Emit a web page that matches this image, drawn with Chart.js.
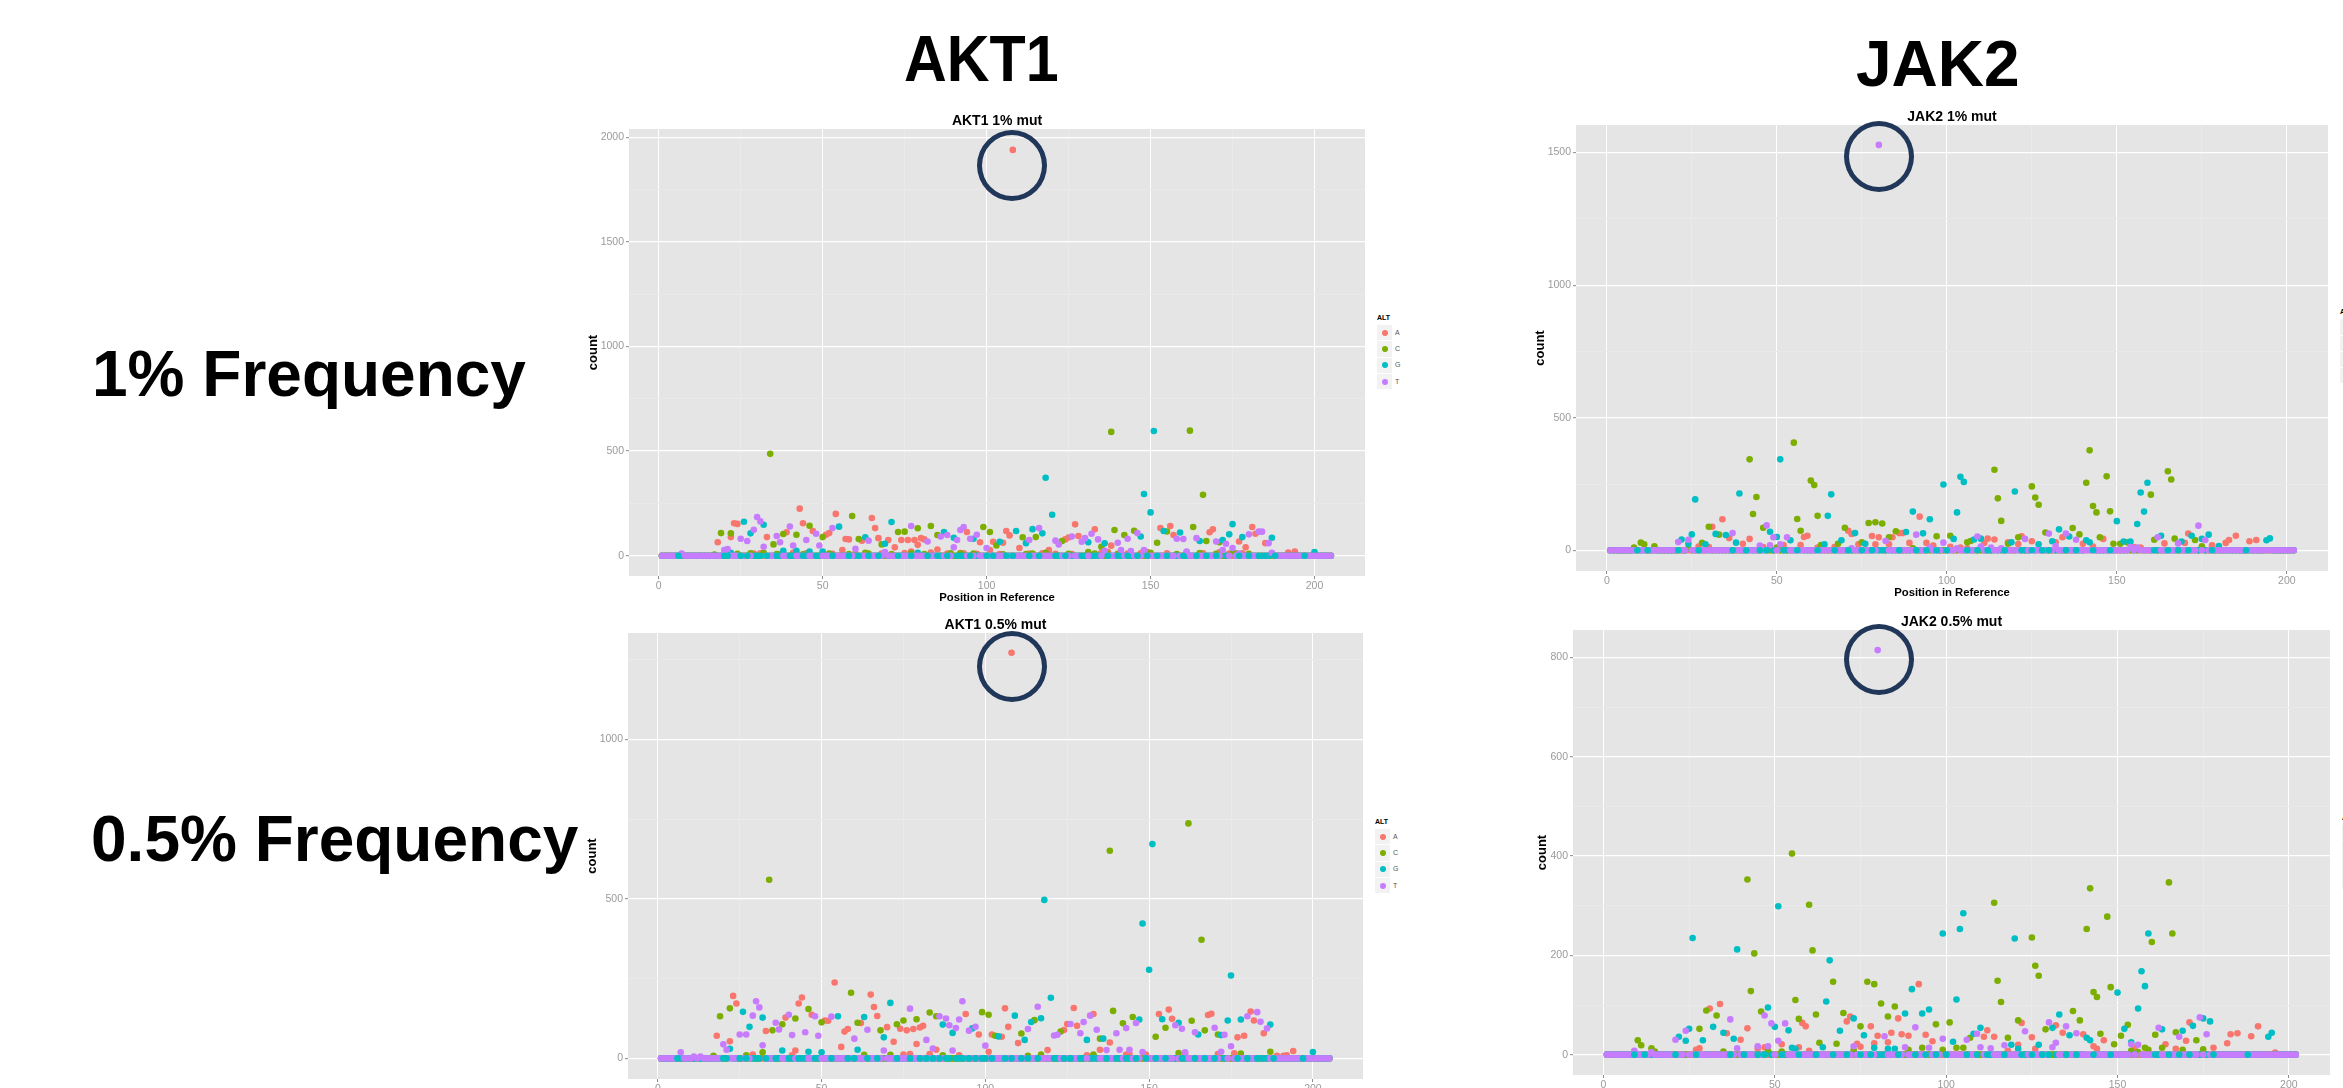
<!DOCTYPE html>
<html><head><meta charset="utf-8">
<script src="https://cdn.jsdelivr.net/npm/chart.js@4"></script>
<style>
html,body{margin:0;padding:0;background:#fff;width:2343px;height:1088px;overflow:hidden;font-family:"Liberation Sans",Arial,sans-serif}
#stage{position:absolute;left:0;top:0;width:2343px;height:1088px;overflow:hidden}
canvas{position:absolute;filter:blur(.35px)}
.big{position:absolute;font-weight:bold;font-size:64px;line-height:64px;color:#000;white-space:nowrap;transform-origin:left top}
.ring{position:absolute;width:60px;height:61px;border:5px solid #21375A;border-radius:50%;pointer-events:none}
.lt{position:absolute;font:bold 7px "Liberation Sans",Arial,sans-serif;color:#000;line-height:8px}
.lk{position:absolute;width:15.3px;height:15.3px;background:#F2F2F2}
.ld{position:absolute;width:6px;height:6px;border-radius:50%;left:4.7px;top:4.7px}
.ll{position:absolute;font:7px "Liberation Sans",Arial,sans-serif;color:#555;line-height:8px}
</style></head><body><div id="stage"></div>
<script>
const altLabels=['A','C','G','T'];
const altColors=['#F8766D','#7CAE00','#00BFC4','#C77CFF'];
const rowLabels=['1% Frequency','0.5% Frequency'];
const geneLabels=['AKT1','JAK2'];
const positionsAKT1=[1,2,3,4,5,6,7,8,9,10,11,12,13,14,15,16,17,18,19,20,21,22,23,24,25,26,27,28,29,30,31,32,33,34,35,36,37,38,39,40,41,42,43,44,45,46,47,48,49,50,51,52,53,54,55,56,57,58,59,60,61,62,63,64,65,66,67,68,69,70,71,72,73,74,75,76,77,78,79,80,81,82,83,84,85,86,87,88,89,90,91,92,93,94,95,96,97,98,99,100,101,102,103,104,105,106,107,108,109,110,111,112,113,114,115,116,117,118,119,120,121,122,123,124,125,126,127,128,129,130,131,132,133,134,135,136,137,138,139,140,141,142,143,144,145,146,147,148,149,150,151,152,153,154,155,156,157,158,159,160,161,162,163,164,165,166,167,168,169,170,171,172,173,174,175,176,177,178,179,180,181,182,183,184,185,186,187,188,189,190,191,192,193,194,195,196,197,198,199,200,201,202,203,204,205];
const positionsJAK2=[1,2,3,4,5,6,7,8,9,10,11,12,13,14,15,16,17,18,19,20,21,22,23,24,25,26,27,28,29,30,31,32,33,34,35,36,37,38,39,40,41,42,43,44,45,46,47,48,49,50,51,52,53,54,55,56,57,58,59,60,61,62,63,64,65,66,67,68,69,70,71,72,73,74,75,76,77,78,79,80,81,82,83,84,85,86,87,88,89,90,91,92,93,94,95,96,97,98,99,100,101,102,103,104,105,106,107,108,109,110,111,112,113,114,115,116,117,118,119,120,121,122,123,124,125,126,127,128,129,130,131,132,133,134,135,136,137,138,139,140,141,142,143,144,145,146,147,148,149,150,151,152,153,154,155,156,157,158,159,160,161,162,163,164,165,166,167,168,169,170,171,172,173,174,175,176,177,178,179,180,181,182,183,184,185,186,187,188,189,190,191,192,193,194,195,196,197,198,199,200,201,202];
const xTicks=[0,25,50,75,100,125,150,175,200];
const yTicksAKT1_1=[0,250,500,750,1000,1250,1500,1750,2000];
const yTicksJAK2_1=[0,250,500,750,1000,1250,1500];
const yTicksAKT1_05=[0,250,500,750,1000,1250];
const yTicksJAK2_05=[0,100,200,300,400,500,600,700,800];

// [position, count] readings; every other position reads 0
const akt1_1_A=[[108,1940],[18,64],[22,89],[23,155],[24,152],[29,10],[31,12],[33,89],[37,8],[39,112],[41,14],[43,225],[44,155],[45,12],[47,118],[51,100],[52,108],[53,9],[54,200],[56,27],[57,80],[58,78],[60,12],[62,72],[65,180],[66,132],[67,84],[68,10],[70,75],[72,40],[74,75],[75,13],[76,75],[77,20],[78,75],[79,52],[80,84],[81,78],[83,15],[85,30],[88,10],[92,13],[93,12],[94,113],[97,9],[98,64],[101,27],[102,67],[104,8],[105,62],[106,118],[107,97],[110,37],[113,10],[117,12],[119,27],[121,9],[124,78],[125,87],[126,8],[127,150],[128,94],[131,12],[133,126],[135,14],[137,18],[138,48],[141,13],[143,10],[147,12],[149,18],[153,132],[155,12],[156,142],[157,99],[161,15],[166,12],[168,112],[169,126],[171,16],[174,10],[177,68],[178,12],[179,40],[181,137],[182,105],[185,60],[187,8],[192,15],[194,20]];
const akt1_1_C=[[17,6],[19,108],[22,107],[24,9],[28,12],[32,14],[34,487],[35,54],[36,8],[38,104],[42,100],[44,7],[46,143],[50,89],[52,10],[58,8],[59,190],[61,80],[63,14],[64,10],[68,54],[71,8],[73,113],[75,115],[77,11],[79,131],[81,8],[83,142],[85,99],[89,12],[92,10],[96,10],[99,137],[101,113],[103,49],[105,7],[111,88],[112,8],[114,10],[115,89],[118,14],[123,70],[125,9],[131,17],[133,10],[135,43],[137,8],[138,592],[139,123],[140,9],[142,99],[145,119],[150,14],[152,62],[155,116],[158,8],[162,598],[163,137],[165,13],[166,291],[167,70],[170,9],[171,64],[175,12],[176,12],[180,9]];
const akt1_1_G=[[22,14],[26,162],[28,107],[32,148],[38,24],[42,24],[46,20],[50,20],[55,139],[63,88],[69,57],[71,161],[79,14],[87,113],[90,86],[96,81],[104,67],[109,118],[112,60],[114,127],[117,107],[118,373],[120,196],[131,64],[136,59],[147,92],[148,295],[150,207],[151,596],[154,118],[159,111],[165,70],[172,75],[174,102],[175,151],[178,89],[187,86],[200,18]];
const akt1_1_T=[[7,10],[20,27],[21,32],[25,81],[27,70],[29,124],[30,185],[31,164],[32,43],[36,94],[37,64],[40,140],[41,49],[45,75],[48,105],[49,49],[53,132],[60,33],[64,72],[69,17],[77,142],[82,68],[86,92],[88,99],[90,40],[91,75],[92,123],[93,137],[95,81],[97,100],[100,37],[113,75],[116,132],[121,72],[122,54],[126,92],[129,67],[130,84],[132,105],[134,78],[136,24],[140,62],[141,27],[143,81],[144,22],[146,108],[148,27],[158,81],[160,80],[161,20],[164,84],[170,68],[172,27],[173,57],[175,37],[177,10],[180,102],[183,115],[184,115],[186,60],[187,14]];
const akt1_1_Gfront=[6,20,21,25,27,30,33,36,40,44,48,53,58,61,64,67,73,77,82,85,88,91,92,95,100,102,106,108,113,116,121,124,129,133,137,140,143,146,149,152,155,160,164,167,170,172,177,180,183,185,188,197];

const jak2_1_A=[[27,14],[30,12],[31,89],[34,117],[36,46],[40,25],[42,43],[46,12],[52,20],[57,20],[58,50],[59,55],[62,10],[67,12],[71,74],[72,62],[74,23],[78,54],[79,23],[80,49],[83,23],[84,49],[86,65],[87,65],[89,28],[92,127],[94,28],[96,18],[101,13],[104,10],[106,8],[111,28],[112,44],[114,41],[118,30],[121,24],[122,53],[125,34],[132,30],[134,49],[140,25],[143,14],[146,43],[155,12],[157,10],[164,26],[170,28],[171,63],[178,19],[182,28],[183,39],[185,55],[189,34],[191,39]];
const jak2_1_C=[[8,10],[10,29],[11,23],[14,15],[24,8],[28,28],[30,89],[33,59],[42,343],[43,137],[44,201],[46,85],[50,10],[55,406],[56,118],[57,74],[60,263],[61,246],[62,130],[63,20],[68,25],[70,85],[75,30],[77,103],[79,106],[81,101],[83,49],[85,72],[90,8],[97,53],[101,55],[106,30],[107,35],[114,304],[115,196],[116,111],[118,25],[121,49],[125,241],[126,199],[127,172],[129,67],[137,84],[139,60],[141,255],[142,377],[143,167],[144,143],[145,49],[147,279],[148,147],[149,25],[151,25],[153,30],[160,210],[161,40],[165,298],[166,267],[167,44],[173,39],[175,15]];
const jak2_1_G=[[22,41],[24,25],[25,60],[26,192],[29,23],[32,62],[35,58],[38,29],[39,214],[48,70],[50,50],[51,343],[54,38],[64,23],[65,130],[66,211],[69,38],[73,65],[76,25],[88,69],[90,146],[93,64],[95,117],[99,248],[102,43],[103,143],[104,277],[105,258],[108,41],[110,44],[119,30],[120,222],[127,23],[131,34],[133,79],[136,52],[141,38],[142,30],[150,110],[152,33],[154,33],[156,99],[157,218],[158,146],[159,255],[163,55],[169,33],[172,55],[175,43],[177,59],[180,16],[194,38],[195,45]];
const jak2_1_T=[[21,31],[24,40],[37,65],[45,18],[47,94],[48,19],[49,49],[51,23],[53,49],[72,8],[80,1529],[82,35],[91,59],[95,10],[99,29],[103,8],[109,52],[110,14],[113,10],[116,8],[123,43],[130,63],[132,16],[135,63],[138,40],[154,12],[156,10],[162,49],[168,26],[174,93],[176,39]];
const jak2_1_Gfront=[9,12,21,27,37,41,45,47,52,56,62,67,71,75,78,81,86,91,94,97,100,106,109,112,117,122,125,128,130,135,138,143,148,161,165,168,171,175,178,188];

const akt1_05_A=[[108,1272],[18,71],[22,54],[23,196],[24,172],[29,12],[33,86],[39,128],[41,10],[42,25],[43,172],[44,191],[47,137],[51,119],[52,118],[54,238],[56,36],[57,84],[58,92],[62,111],[65,200],[66,161],[67,133],[70,98],[72,52],[74,93],[75,12],[76,88],[77,14],[78,92],[79,45],[80,97],[81,102],[83,14],[85,27],[92,10],[94,139],[98,75],[101,21],[102,75],[105,68],[106,157],[107,99],[110,48],[119,26],[124,89],[125,108],[127,158],[128,102],[131,10],[133,139],[135,27],[138,50],[143,12],[144,14],[149,12],[153,139],[156,153],[157,124],[161,15],[168,136],[169,140],[171,14],[176,16],[177,66],[179,71],[181,147],[182,119],[185,79],[189,8],[191,8],[192,10],[194,23]];
const akt1_05_C=[[17,8],[19,132],[22,157],[27,10],[32,19],[34,560],[35,88],[38,107],[42,125],[46,155],[50,113],[59,206],[61,112],[63,11],[68,88],[71,11],[73,107],[75,119],[79,123],[83,144],[85,132],[87,10],[99,145],[101,137],[103,71],[111,78],[113,8],[115,120],[117,12],[123,84],[133,12],[135,62],[138,651],[139,149],[142,110],[145,130],[152,68],[155,96],[159,17],[162,737],[163,118],[166,372],[167,88],[171,75],[178,15],[187,21]];
const akt1_05_G=[[22,30],[26,146],[28,99],[32,128],[38,25],[46,21],[50,19],[55,132],[61,27],[63,130],[69,66],[71,174],[87,106],[90,80],[96,94],[104,69],[109,134],[112,58],[114,114],[117,126],[118,497],[120,190],[131,58],[136,62],[147,122],[148,423],[150,278],[151,672],[154,123],[159,112],[165,75],[172,73],[174,119],[175,260],[178,122],[187,106],[200,20]];
const akt1_05_T=[[7,19],[11,6],[13,6],[20,44],[21,27],[25,75],[27,75],[29,134],[30,179],[31,160],[32,41],[36,112],[37,91],[40,137],[41,73],[45,82],[48,132],[49,71],[53,131],[60,62],[64,90],[69,25],[77,156],[82,58],[84,31],[86,132],[88,125],[89,104],[90,25],[91,95],[92,122],[93,179],[95,87],[97,99],[100,40],[113,92],[116,162],[121,72],[122,74],[126,108],[129,79],[130,114],[132,134],[134,90],[137,26],[140,79],[141,27],[143,95],[144,27],[146,111],[148,20],[158,104],[160,93],[161,19],[164,82],[170,96],[172,21],[173,74],[175,38],[180,132],[183,145],[184,115],[186,94]];
const akt1_05_Gfront=[6,20,21,25,27,30,33,36,40,43,44,48,53,58,60,64,67,73,77,80,82,84,86,88,91,92,93,95,97,99,100,102,106,108,111,113,116,121,124,126,129,133,137,140,143,146,149,152,155,160,164,167,170,172,177,180,183,185,188,197];

const jak2_05_A=[[27,10],[28,13],[31,93],[34,102],[36,43],[40,30],[42,53],[45,12],[47,15],[52,21],[57,15],[58,64],[59,57],[60,8],[71,67],[72,77],[74,22],[75,16],[78,57],[79,23],[80,38],[83,25],[84,44],[86,73],[87,41],[89,38],[92,142],[94,40],[96,27],[111,36],[112,49],[114,36],[118,8],[121,20],[122,64],[125,35],[126,12],[132,59],[134,44],[140,41],[143,17],[144,12],[146,29],[155,14],[164,21],[167,12],[170,28],[171,65],[178,14],[182,23],[183,41],[185,43],[189,37],[191,57],[196,4]];
const jak2_05_C=[[9,5],[10,29],[11,19],[14,13],[15,6],[28,52],[30,89],[33,79],[35,6],[42,353],[43,128],[44,204],[46,87],[48,8],[52,6],[55,405],[56,110],[57,72],[60,302],[61,210],[62,81],[63,24],[67,147],[68,22],[70,84],[73,9],[75,57],[77,147],[79,142],[81,103],[83,77],[85,97],[89,10],[93,14],[97,61],[99,10],[101,65],[103,14],[105,14],[107,34],[114,306],[115,149],[116,106],[118,34],[121,69],[125,236],[126,179],[127,159],[129,51],[137,88],[139,69],[141,253],[142,335],[143,126],[144,116],[145,42],[147,278],[148,136],[149,21],[151,38],[153,60],[154,8],[156,5],[158,14],[159,10],[160,227],[161,40],[163,14],[165,347],[166,244],[167,45],[169,10],[173,29],[175,11]];
const jak2_05_G=[[22,36],[24,28],[25,52],[26,235],[29,29],[32,56],[35,44],[38,32],[39,212],[48,95],[50,56],[51,299],[54,49],[55,14],[56,12],[64,15],[65,107],[66,190],[69,48],[73,73],[76,39],[79,14],[83,12],[85,12],[88,83],[90,132],[93,83],[95,91],[99,244],[102,26],[103,111],[104,253],[105,285],[108,42],[110,54],[119,20],[120,234],[121,12],[127,20],[131,54],[133,81],[136,39],[141,34],[142,29],[150,125],[152,52],[154,25],[156,93],[157,168],[158,138],[159,244],[163,51],[169,48],[172,58],[175,73],[177,67],[194,36],[195,44]];
const jak2_05_T=[[9,8],[14,5],[21,30],[24,48],[37,71],[39,13],[45,17],[47,79],[48,17],[49,63],[51,28],[53,63],[73,17],[80,815],[82,37],[88,15],[91,55],[95,14],[99,32],[106,30],[109,42],[110,15],[113,13],[117,19],[123,47],[130,65],[131,15],[132,24],[135,57],[138,43],[154,21],[156,20],[162,54],[168,36],[174,75],[176,41]];
const jak2_05_Gfront=[9,12,21,27,37,41,45,47,52,57,62,67,71,75,78,81,86,91,94,97,100,106,109,112,117,122,125,128,130,135,138,143,148,161,165,168,171,175,178,188];

const GREY='#9A9A9A', FONT='"Liberation Sans",Arial,sans-serif';
const panels=[
 {title:'AKT1 1% mut',l:629,r:1365,t:129,b:576,xmin:-9.06,xmax:215.4,ymin:-97,ymax:2040,major:500,yt:yTicksAKT1_1,yw:43,pos:positionsAKT1,ser:[akt1_1_A,akt1_1_C,akt1_1_G,akt1_1_T],front:akt1_1_Gfront},
 {title:'JAK2 1% mut',l:1576,r:2328,t:125,b:571,xmin:-9.06,xmax:212.1,ymin:-78,ymax:1604,major:500,yt:yTicksJAK2_1,yw:43,pos:positionsJAK2,ser:[jak2_1_A,jak2_1_C,jak2_1_G,jak2_1_T],front:jak2_1_Gfront},
 {title:'AKT1 0.5% mut',l:628,r:1363,t:633,b:1079,xmin:-9.1,xmax:215.3,ymin:-64.6,ymax:1334,major:500,yt:yTicksAKT1_05,yw:43,pos:positionsAKT1,ser:[akt1_05_A,akt1_05_C,akt1_05_G,akt1_05_T],front:akt1_05_Gfront},
 {title:'JAK2 0.5% mut',l:1573,r:2330,t:630,b:1075,xmin:-8.9,xmax:212,ymin:-41,ymax:855.5,major:200,yt:yTicksJAK2_05,yw:38,pos:positionsJAK2,ser:[jak2_05_A,jak2_05_C,jak2_05_G,jak2_05_T],front:jak2_05_Gfront}
];
const panelBg={id:'panelBg',beforeDraw(c){const a=c.chartArea,x=c.ctx;x.save();x.fillStyle='#E5E5E5';x.fillRect(a.left,a.top,a.right-a.left,a.bottom-a.top);x.restore();}};
const stage=document.getElementById('stage');
const TITLE_H=17, XAXIS_H=29;
function seriesData(pos,readings,front){const m=new Map(readings);return pos.filter(p=>!front.includes(p)||m.has(p)).map(p=>({x:p,y:m.has(p)?m.get(p):0}));}
panels.forEach(p=>{
  const cv=document.createElement('canvas');
  const W=p.r-p.l+p.yw, H=p.b-p.t+TITLE_H+XAXIS_H;
  cv.width=W;cv.height=H;cv.style.cssText=`left:${p.l-p.yw}px;top:${p.t-TITLE_H}px;width:${W}px;height:${H}px`;
  stage.appendChild(cv);
  const isMajor=(v,m)=>v%m===0;
  const gReadings=new Map(p.ser[2]);
  const mk=(a,i,order,data)=>({label:a,order,data,backgroundColor:altColors[i],borderWidth:0,pointRadius:3.3,pointHoverRadius:3.3});
  const datasets=altLabels.map((a,i)=>mk(a,i,altLabels.length-i,seriesData(p.pos,p.ser[i],i===2?p.front:[])));
  // G points at count 0 that the reference shows on top of the T row
  datasets.push(mk('G',2,0,p.front.filter(q=>!gReadings.has(q)).map(q=>({x:q,y:0}))));
  new Chart(cv,{type:'scatter',plugins:[panelBg],
   data:{datasets},
   options:{responsive:false,animation:false,layout:{padding:0,autoPadding:false},
    plugins:{legend:{display:false},tooltip:{enabled:false},
      title:{display:true,text:p.title,fullSize:false,color:'#000',padding:{top:2,bottom:0},font:{family:FONT,size:14,weight:'bold',lineHeight:(TITLE_H-2)+'px'}}},
    scales:{
     x:{type:'linear',min:p.xmin,max:p.xmax,afterFit:s=>{s.height=XAXIS_H;},afterBuildTicks:s=>{s.ticks=xTicks.map(v=>({value:v}));},
       border:{display:false},
       title:{display:true,text:'Position in Reference',color:'#000',padding:0,font:{family:FONT,size:11.3,weight:'bold'}},
       ticks:{autoSkip:false,maxRotation:0,color:GREY,padding:1,font:{family:FONT,size:10.5},callback:v=>isMajor(v,50)?String(v):''},
       grid:{tickLength:3,color:c=>isMajor(c.tick.value,50)?'#FFFFFF':'#EAEAEA',lineWidth:1,tickColor:c=>isMajor(c.tick.value,50)?'#8A8A8A':'rgba(0,0,0,0)',tickWidth:1}},
     y:{type:'linear',min:p.ymin,max:p.ymax,afterFit:s=>{s.width=p.yw;},afterBuildTicks:s=>{s.ticks=p.yt.map(v=>({value:v}));},
       border:{display:false},
       title:{display:true,text:'count',color:'#000',padding:0,font:{family:FONT,size:13,weight:'bold'}},
       ticks:{autoSkip:false,color:GREY,padding:2,font:{family:FONT,size:10.5},callback:v=>isMajor(v,p.major)?String(v):''},
       grid:{tickLength:3,color:c=>isMajor(c.tick.value,p.major)?'#FFFFFF':'#EAEAEA',lineWidth:c=>isMajor(c.tick.value,p.major)?1.3:1,tickColor:c=>isMajor(c.tick.value,p.major)?'#8A8A8A':'rgba(0,0,0,0)',tickWidth:1}}
    }}});
});
function addText(cls,txt,l,t){const d=document.createElement('div');d.className=cls;d.textContent=txt;d.style.left=l+'px';d.style.top=t+'px';stage.appendChild(d);return d;}
addText('big',geneLabels[0],904,26.5).style.transform='scaleX(.925)';
addText('big',geneLabels[1],1856,31.8);
addText('big',rowLabels[0],92,341.8);
addText('big',rowLabels[1],91,806.8);
[[1011.8,165],[1878.8,156.7],[1011.8,666.7],[1878.8,659]].forEach(([cx,cy])=>{const d=document.createElement('div');d.className='ring';d.style.left=(cx-35)+'px';d.style.top=(cy-35.5)+'px';stage.appendChild(d);});
function addLegend(x,y){
  addText('lt','ALT',x,y-11);
  altLabels.forEach((a,i)=>{
    const k=document.createElement('div');k.className='lk';k.style.left=x+'px';k.style.top=(y+i*16.3)+'px';
    const dot=document.createElement('div');dot.className='ld';dot.style.background=altColors[i];k.appendChild(dot);stage.appendChild(k);
    addText('ll',a,x+18,y+i*16.3+3.7);
  });
}
addLegend(1377,325);addLegend(1375,829);addLegend(2340,319.3);addLegend(2342,825);
</script></body></html>
